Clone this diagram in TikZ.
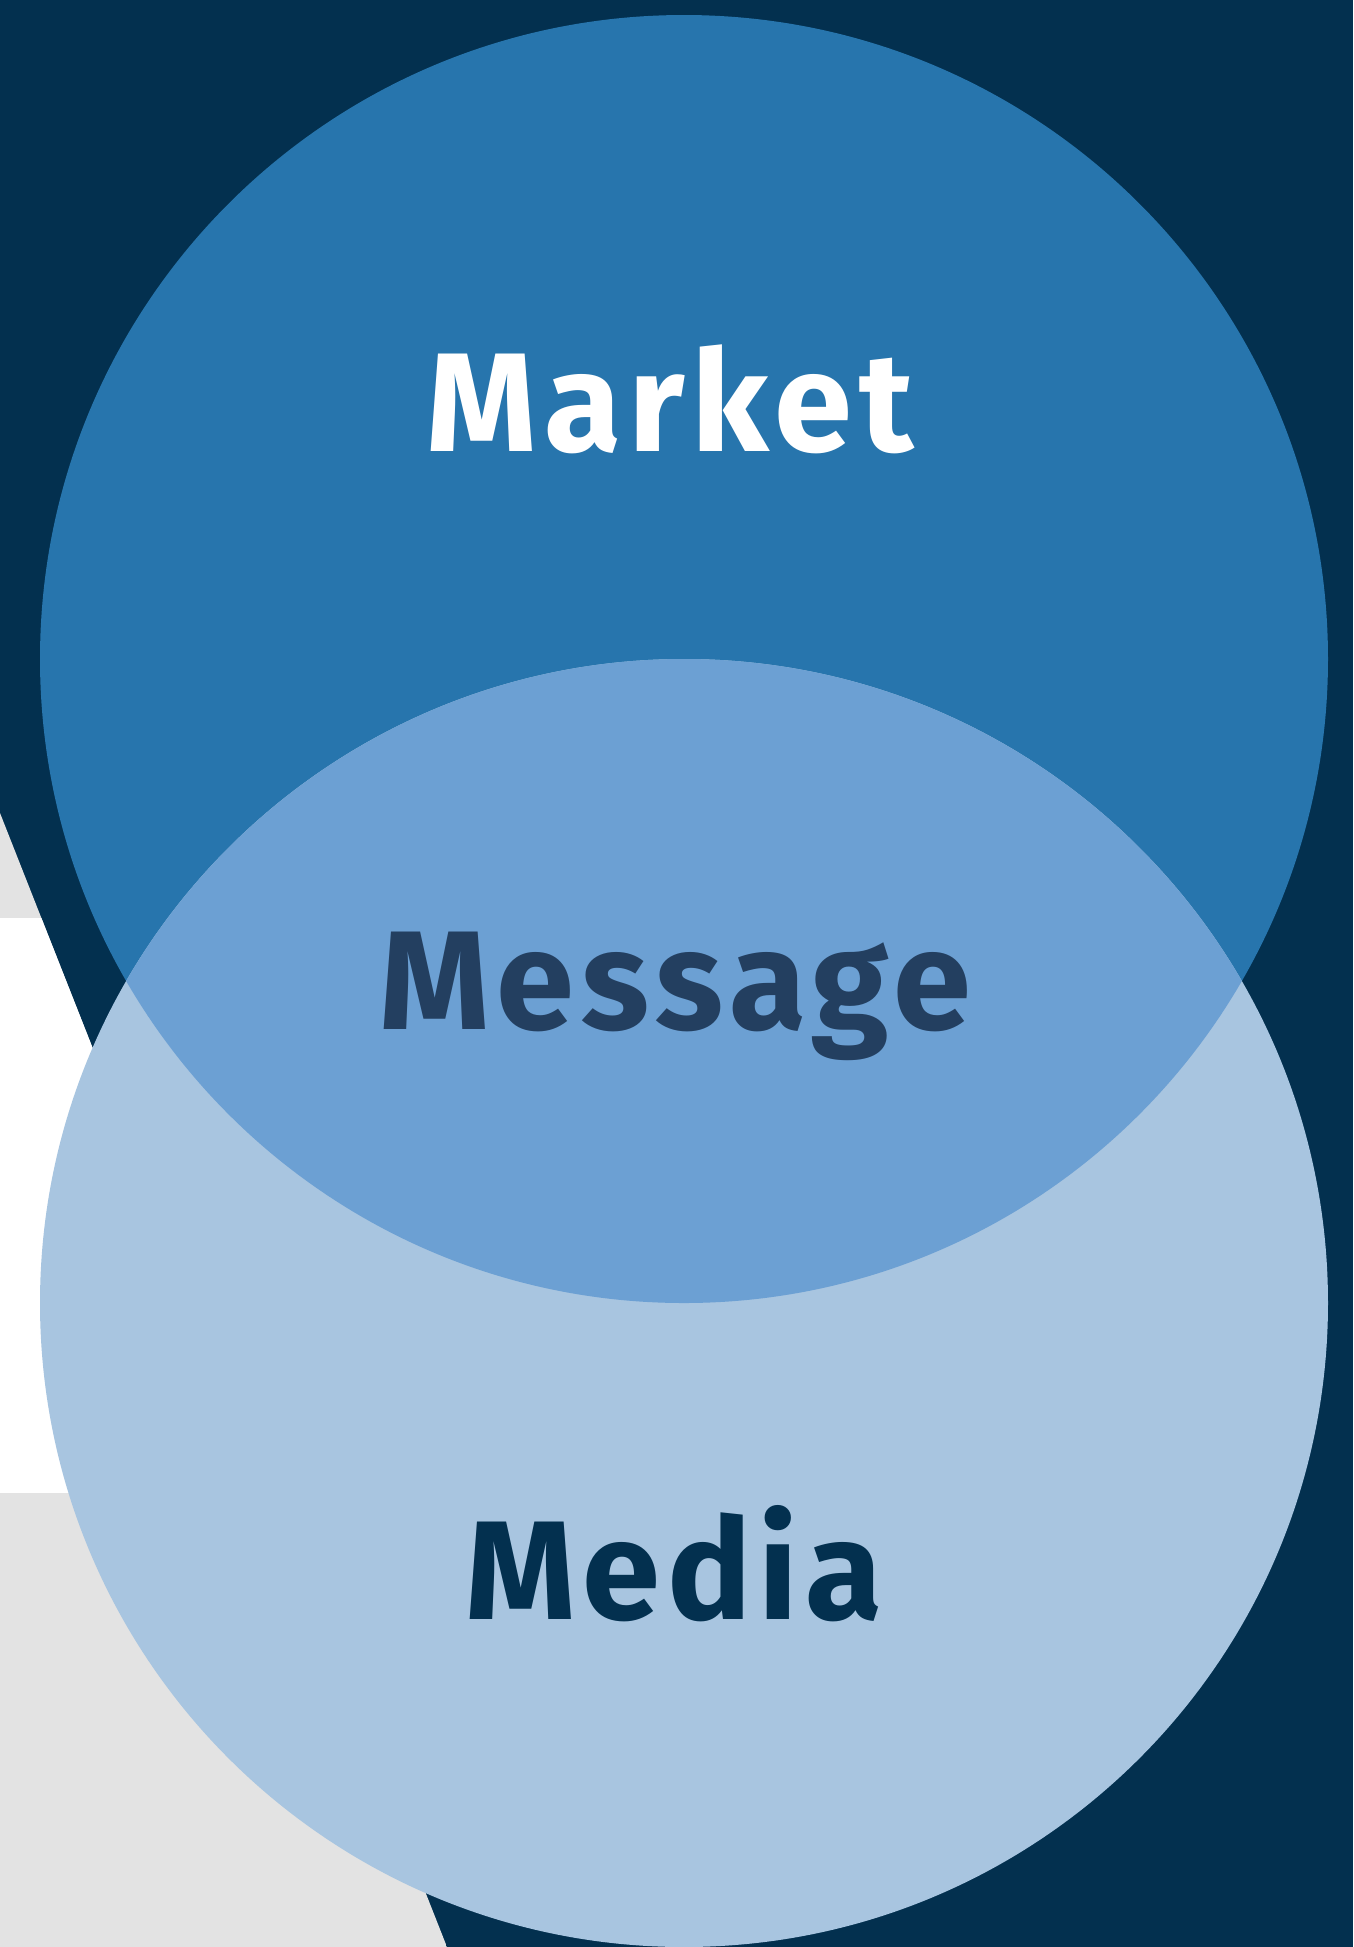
\documentclass[tikz,border=0pt]{standalone}
\usepackage{fontspec}
\setsansfont{Fira Sans}[LetterSpace=5]
\definecolor{navy}{HTML}{03304F}
\definecolor{upperblue}{HTML}{2775AD}
\definecolor{lowerblue}{HTML}{A8C5E0}
\definecolor{overlapblue}{HTML}{6CA0D3}
\definecolor{paper}{HTML}{E3E3E3}
\definecolor{slate}{HTML}{233F60}

\begin{document}
\begin{tikzpicture}[x=0.01cm,y=-0.01cm,
  label/.style={font=\sffamily\bfseries\fontsize{40}{48}\selectfont,anchor=base,inner sep=0pt}]
% circle centres and radius
\def\R{644}
\def\cx{684}
\def\upy{659}
\def\loy{1303}
\useasboundingbox (0,0) rectangle (1353,1947);
% ---------- background ----------
\fill[navy] (0,0) rectangle (1353,1947);
\begin{scope}
  \clip (0,813) -- (447,1947) -- (0,1947) -- cycle;
  \fill[paper] (0,813) rectangle (447,1947);
  \fill[white] (0,918) rectangle (447,1493);
\end{scope}
% ---------- the two circles ----------
\fill[upperblue] (\cx,\upy) circle (\R);
\fill[lowerblue] (\cx,\loy) circle (\R);
% ---------- overlap, clipped ----------
\begin{scope}
  \clip (\cx,\upy) circle (\R);
  \fill[overlapblue] (\cx,\loy) circle (\R);
\end{scope}
% ---------- labels ----------
\node[label,text=white] (market) at (670,451) {Market};
\node[label,text=slate] (message) at (675,1029) {Message};
\node[label,text=navy] (media) at (674,1619) {Media};
\end{tikzpicture}
\end{document}
